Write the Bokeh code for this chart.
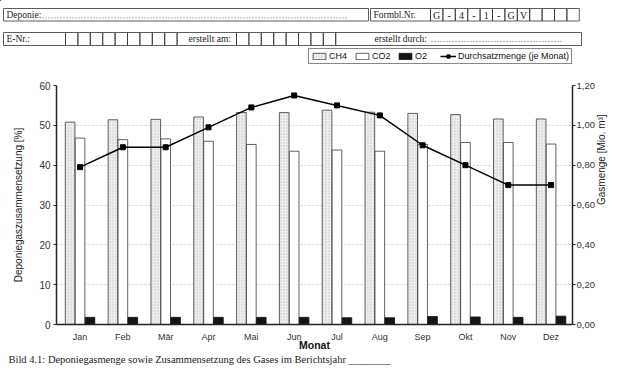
import math
from bokeh.plotting import figure
from bokeh.models import (Range1d, LinearAxis, FixedTicker, CustomJSTickFormatter,
                          Legend, LegendItem, ColumnDataSource)
from bokeh.layouts import column
from bokeh.core.properties import value
from bokeh.transform import dodge
from bokeh.embed import file_html
from bokeh.resources import INLINE

# ---- data ----
months = ["Jan", "Feb", "Mär", "Apr", "Mai", "Jun", "Jul", "Aug", "Sep", "Okt", "Nov", "Dez"]
ch4 = [50.8, 51.4, 51.5, 52.1, 53.2, 53.2, 53.8, 53.3, 53.0, 52.7, 51.6, 51.6]
co2 = [46.8, 46.4, 46.6, 46.0, 45.2, 43.5, 43.8, 43.5, 45.2, 45.7, 45.7, 45.3]
o2 = [1.8, 1.8, 1.8, 1.8, 1.8, 1.8, 1.7, 1.7, 2.0, 1.9, 1.8, 2.1]
durchsatz = [0.79, 0.89, 0.89, 0.99, 1.09, 1.15, 1.10, 1.05, 0.90, 0.80, 0.70, 0.70]
left_ticks = [0, 10, 20, 30, 40, 50, 60]
right_ticks = [0.0, 0.2, 0.4, 0.6, 0.8, 1.0, 1.2]
series_names = ["CH4", "CO2", "O2", "Durchsatzmenge (je Monat)"]
formnr = ["G", "-", "4", "-", "1", "-", "G", "V", "", "", "", ""]

SANS = "Liberation Sans"
SERIF = "Liberation Serif"
W = 621

# bar / line styles shared by chart and legend
CH4_STYLE = dict(fill_color="#eeeeee", line_color="#3a3a3a", line_width=0.8,
                 hatch_pattern="dot", hatch_color="#a8a8a8", hatch_scale=3, hatch_alpha=0.6)
CO2_STYLE = dict(fill_color="white", line_color="#3a3a3a", line_width=0.8)
O2_STYLE = dict(fill_color="#141414", line_color="#141414", line_width=0.8)
LINE_STYLE = dict(line_color="black", line_width=1.5)
PT_STYLE = dict(marker="square", size=5, fill_color="black", line_color="black")

# ---- header form + legend (page coordinates) ----
HH = 66
hdr = figure(width=W, height=HH, x_range=Range1d(0, 621), y_range=Range1d(HH, 0),
             toolbar_location=None, output_backend="svg", x_axis_location=None,
             y_axis_location=None, min_border=0, min_border_left=0, min_border_right=0,
             min_border_top=0, min_border_bottom=0)
hdr.frame_align = False
hdr.grid.visible = False
hdr.outline_line_color = None

L, R, T, B = [], [], [], []
def box(l, r, t, b):
    L.append(l); R.append(r); T.append(t); B.append(b)

r1t, r1b = 8, 20.5
r2t, r2b = 32, 45
box(3, 368, r1t, r1b)
box(370, 430, r1t, r1b)
cw = 12.4
for k in range(len(formnr)):
    box(430 + cw * k, 430 + cw * (k + 1), r1t, r1b)
box(3, 65, r2t, r2b)
for k in range(9):
    box(65 + cw * k, 65 + cw * (k + 1), r2t, r2b)
box(176.6, 236, r2t, r2b)
for k in range(8):
    box(236 + cw * k, 236 + cw * (k + 1), r2t, r2b)
box(335.2, 581, r2t, r2b)
hdr.quad(left=L, right=R, top=T, bottom=B, fill_color=None, line_color="#333333", line_width=0.8)

tx = [6, 373, 6, 188, 374]
ty = [14.5, 14.5, 38.5, 38.5, 38]
tt = ["Deponie:", "Formbl.Nr.", "E-Nr.:", "erstellt am:", "erstellt durch:"]
hdr.text(x=tx, y=ty, text=tt, text_font=value(SERIF), text_font_size="9.5px",
         text_baseline="middle", text_align="left", text_color="#222222")
hdr.text(x=[430 + cw * (k + 0.5) for k in range(len(formnr))], y=[14.5] * len(formnr), text=formnr,
         text_font=value(SERIF), text_font_size="10px", text_baseline="middle",
         text_align="center", text_color="#222222")
hdr.segment(x0=[42, 431], y0=[17.5, 41], x1=[348, 562], y1=[17.5, 41], line_color="#444444",
            line_width=0.8, line_dash="1 2")

# legend proxies (same styles as the chart's renderers), placed off-canvas
proxy = ColumnDataSource(dict(x=[-1000, -999], top=[0, 0], y=[0, 0]))
g_ch4 = hdr.vbar(x="x", top="top", width=1, source=proxy, **CH4_STYLE)
g_co2 = hdr.vbar(x="x", top="top", width=1, source=proxy, **CO2_STYLE)
g_o2 = hdr.vbar(x="x", top="top", width=1, source=proxy, **O2_STYLE)
g_line = hdr.line(x="x", y="y", source=proxy, **LINE_STYLE)
g_pts = hdr.scatter(x="x", y="y", source=proxy, **PT_STYLE)

legend = Legend(items=[LegendItem(label=series_names[0], renderers=[g_ch4]),
                       LegendItem(label=series_names[1], renderers=[g_co2]),
                       LegendItem(label=series_names[2], renderers=[g_o2]),
                       LegendItem(label=series_names[3], renderers=[g_line, g_pts])],
                location=(308, 2), orientation="horizontal")
legend.margin = 0
legend.padding = 2
legend.spacing = 5
legend.glyph_width = 16
legend.glyph_height = 8
legend.label_standoff = 2
legend.label_text_font = SANS
legend.label_text_font_size = "9px"
legend.label_text_color = "#111111"
legend.label_height = 10
legend.border_line_color = "#111111"
legend.border_line_width = 1
legend.background_fill_color = "white"
legend.background_fill_alpha = 1
hdr.add_layout(legend)

# ---- main chart ----
p = figure(width=W, height=287, x_range=Range1d(-0.55, 11.5), y_range=Range1d(0, 60),
           toolbar_location=None, output_backend="svg",
           min_border_left=56, min_border_right=49, min_border_top=19, min_border_bottom=29,
           x_axis_label="Monat", y_axis_label="Deponiegaszusammensetzung [%]")
p.frame_align = False
p.outline_line_color = None
p.extra_y_ranges = {"gas": Range1d(0, 1.2)}

src = ColumnDataSource(dict(x=list(range(len(months))), ch4=ch4, co2=co2, o2=o2, gas=durchsatz))

bw = 0.225
r_ch4 = p.vbar(x=dodge("x", -0.232, range=p.x_range), top="ch4", width=bw, source=src, **CH4_STYLE)
r_co2 = p.vbar(x="x", top="co2", width=bw, source=src, **CO2_STYLE)
r_o2 = p.vbar(x=dodge("x", 0.232, range=p.x_range), top="o2", width=bw, source=src, **O2_STYLE)
r_line = p.line("x", "gas", source=src, y_range_name="gas", **LINE_STYLE)
r_pts = p.scatter("x", "gas", source=src, y_range_name="gas", **PT_STYLE)

# axes
xa = p.xaxis[0]
xa.ticker = FixedTicker(ticks=list(range(len(months))))
xa.major_label_overrides = {i: m for i, m in enumerate(months)}
xa.major_tick_line_color = None
xa.minor_tick_line_color = None
xa.axis_line_color = "#222222"
xa.axis_line_width = 1.5
xa.major_label_standoff = 1
xa.major_label_text_font = SANS
xa.major_label_text_font_size = "9px"
xa.major_label_text_color = "#333333"
xa.axis_label_standoff = -6
xa.axis_label_text_font = SANS
xa.axis_label_text_font_size = "10.5px"
xa.axis_label_text_font_style = "bold"
xa.axis_label_text_color = "#111111"

ya = p.yaxis[0]
ya.ticker = FixedTicker(ticks=left_ticks)
ya.minor_tick_line_color = None
ya.major_tick_in = 0
ya.major_tick_out = 3
ya.axis_line_color = "#222222"
ya.axis_line_width = 1.5
ya.major_tick_line_color = "#222222"
ya.major_label_text_font = SANS
ya.major_label_text_font_size = "10px"
ya.major_label_text_color = "#333333"
ya.major_label_standoff = 3
ya.axis_label_standoff = 12
ya.axis_label_text_font = SANS
ya.axis_label_text_font_size = "10px"
ya.axis_label_text_font_style = "normal"
ya.axis_label_text_color = "#222222"

ra = LinearAxis(y_range_name="gas", axis_label="Gasmenge [Mio. m³]",
                ticker=FixedTicker(ticks=right_ticks),
                formatter=CustomJSTickFormatter(code="return tick.toFixed(2).replace('.', ',');"))
ra.minor_tick_line_color = None
ra.major_tick_in = 0
ra.major_tick_out = 3
ra.axis_line_color = "#222222"
ra.axis_line_width = 1.5
ra.major_tick_line_color = "#222222"
ra.major_label_text_font = SANS
ra.major_label_text_font_size = "9.5px"
ra.major_label_text_color = "#333333"
ra.major_label_standoff = 1
ra.axis_label_standoff = 4
ra.axis_label_orientation = math.pi / 2
ra.axis_label_text_font = SANS
ra.axis_label_text_font_size = "10px"
ra.axis_label_text_font_style = "normal"
ra.axis_label_text_color = "#222222"
p.add_layout(ra, "right")

p.xgrid.visible = False
p.ygrid.ticker = FixedTicker(ticks=left_ticks)
p.ygrid.grid_line_color = "#c4c4c4"
p.ygrid.grid_line_dash = "2 2"
p.ygrid.grid_line_width = 0.8

# ---- caption ----
cap = figure(width=W, height=22, x_range=Range1d(0, 621), y_range=Range1d(375, 353),
             toolbar_location=None, output_backend="svg", x_axis_location=None,
             y_axis_location=None, min_border=0, min_border_left=0, min_border_right=0,
             min_border_top=0, min_border_bottom=0)
cap.frame_align = False
cap.grid.visible = False
cap.outline_line_color = None
cap.text(x=[8], y=[359], text=["Bild 4.1: Deponiegasmenge sowie Zusammensetzung des Gases im Berichtsjahr ________"],
         text_font=value(SERIF), text_font_size="10.5px", text_baseline="middle",
         text_align="left", text_color="#222222")

layout = column(hdr, p, cap, spacing=0)
open("out.html", "w").write(file_html(layout, INLINE))
